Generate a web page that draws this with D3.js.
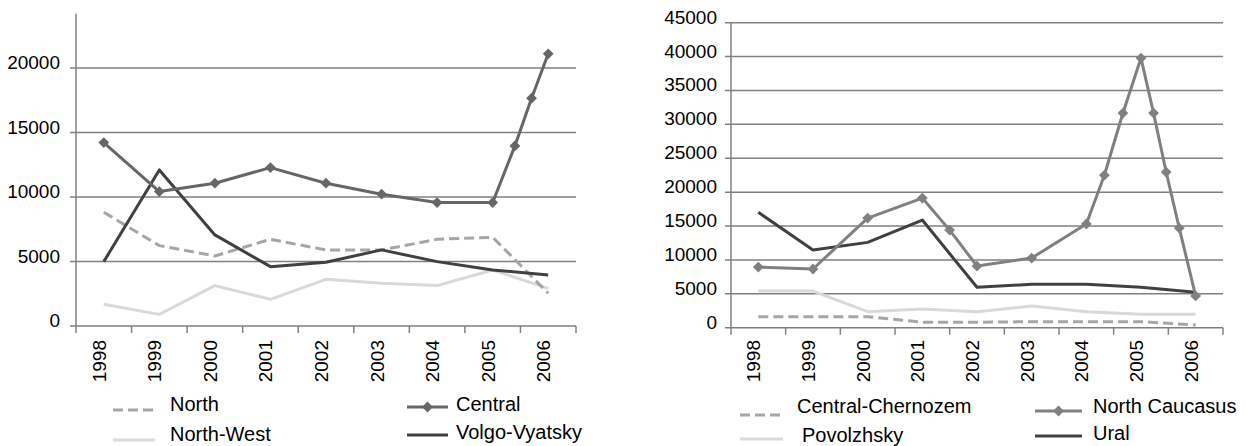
<!DOCTYPE html>
<html>
<head>
<meta charset="utf-8">
<script src="https://cdn.jsdelivr.net/npm/d3@7"></script>
<style>
html,body{margin:0;padding:0;background:#fff;}
svg{display:block;font-family:"Liberation Sans",Arial,sans-serif;}
</style>
</head>
<body>
<svg id="chart" width="1246" height="446"></svg>
<script>
// ---- data ----
const years = [1998, 1999, 2000, 2001, 2002, 2003, 2004, 2005, 2006];
const yearLabels = ["1998", "1999", "2000", "2001", "2002", "2003", "2004", "2005", "2006"];

// left chart
const leftTicks = [0, 5000, 10000, 15000, 20000];
const northVals = [8820, 6230, 5430, 6720, 5900, 5900, 6720, 6880, 2540];
const northWestVals = [1680, 900, 3130, 2070, 3620, 3310, 3130, 4340, 2920];
const centralX = [1998, 1999, 2000, 2001, 2002, 2003, 2004, 2005, 2005.4, 2005.7, 2006];
const centralVals = [14220, 10420, 11070, 12280, 11070, 10220, 9570, 9570, 13960, 17660, 21100];
const volgoVals = [4990, 12100, 7060, 4600, 4940, 5900, 4990, 4340, 3960];

// right chart
const rightTicks = [0, 5000, 10000, 15000, 20000, 25000, 30000, 35000, 40000, 45000];
const chernozemVals = [1620, 1620, 1620, 800, 800, 890, 890, 890, 400];
const povolzhskyVals = [5410, 5400, 2360, 2760, 2360, 3200, 2360, 1970, 1970];
const caucasusX = [1998, 1999, 2000, 2001, 2001.5, 2002, 2003, 2004, 2004.33, 2004.67, 2005, 2005.23, 2005.46, 2005.7, 2006];
const caucasusVals = [8950, 8660, 16180, 19130, 14400, 9100, 10280, 15300, 22500, 31670, 39780, 31670, 22970, 14700, 4680];
const uralVals = [17020, 11460, 12590, 15880, 5960, 6400, 6400, 5960, 5220];

const svg = d3.select("#chart");
const AXIS_FONT = 19;
const LEGEND_FONT = 20;
const GRID = "#808080";

function zip(xs, vs) { return xs.map((x, i) => ({x: x, v: vs[i]})); }

function drawChart(cfg) {
  const g = svg.append("g");
  const x = d3.scaleLinear().domain([years[0] - 0.5, years[years.length - 1] + 0.5]).range([cfg.x0, cfg.x1]);
  const y = d3.scaleLinear().domain([0, cfg.yMax]).range([cfg.yBottom, cfg.yMaxPx]);

  // gridlines + y tick labels
  g.selectAll("line.grid").data(cfg.ticks).join("line")
    .attr("x1", cfg.x0 - 6).attr("x2", cfg.x1)
    .attr("y1", d => y(d)).attr("y2", d => y(d))
    .attr("stroke", GRID).attr("stroke-width", 1.5);
  g.selectAll("text.ytick").data(cfg.ticks).join("text")
    .attr("x", cfg.labelRight).attr("y", d => y(d) + 1)
    .attr("text-anchor", "end").attr("font-size", AXIS_FONT).attr("fill", "#000")
    .text(d => d);

  // y axis line
  g.append("line").attr("x1", cfg.x0).attr("x2", cfg.x0)
    .attr("y1", y(0)).attr("y2", y(cfg.axisTopVal))
    .attr("stroke", GRID).attr("stroke-width", 1.5);

  // x axis ticks at category boundaries
  const bounds = d3.range(years.length + 1).map(i => years[0] - 0.5 + i);
  g.selectAll("line.xt").data(bounds).join("line")
    .attr("x1", d => x(d)).attr("x2", d => x(d))
    .attr("y1", y(0)).attr("y2", y(0) + 7)
    .attr("stroke", GRID).attr("stroke-width", 1.5);

  // x labels rotated
  g.selectAll("text.xl").data(years).join("text")
    .attr("transform", (d) => `translate(${x(d) + 2},340) rotate(-90)`)
    .attr("text-anchor", "end").attr("font-size", AXIS_FONT).attr("fill", "#000")
    .text((d, i) => yearLabels[i]);

  const line = d3.line().x(d => x(d.x)).y(d => y(d.v));
  cfg.series.forEach(s => {
    g.append("path").datum(s.data)
      .attr("d", line).attr("fill", "none")
      .attr("stroke", s.color).attr("stroke-width", 3)
      .attr("stroke-linejoin", "round")
      .attr("stroke-dasharray", s.dash || null);
    if (s.marker) {
      g.selectAll(null).data(s.data).join("path")
        .attr("d", d3.symbol().type(d3.symbolSquare).size(58))
        .attr("transform", d => `translate(${x(d.x)},${y(d.v)}) rotate(45)`)
        .attr("fill", s.color);
    }
  });

  // legend
  cfg.legend.forEach(l => {
    g.append("line").attr("x1", l.sx0).attr("x2", l.sx1)
      .attr("y1", l.sy).attr("y2", l.sy)
      .attr("stroke", l.s.color).attr("stroke-width", 3)
      .attr("stroke-dasharray", l.s.dash || null);
    if (l.s.marker) {
      g.append("path").attr("d", d3.symbol().type(d3.symbolSquare).size(58))
        .attr("transform", `translate(${(l.sx0 + l.sx1) / 2},${l.sy}) rotate(45)`)
        .attr("fill", l.s.color);
    }
    g.append("text").attr("x", l.tx).attr("y", l.ty)
      .attr("font-size", LEGEND_FONT).attr("fill", "#000").text(l.s.name);
  });
}

const sNorth = {name: "North", color: "#a6a6a6", dash: "10,5", data: zip(years, northVals)};
const sNorthWest = {name: "North-West", color: "#d9d9d9", data: zip(years, northWestVals)};
const sCentral = {name: "Central", color: "#666666", marker: true, data: zip(centralX, centralVals)};
const sVolgo = {name: "Volgo-Vyatsky", color: "#404040", data: zip(years, volgoVals)};

drawChart({
  x0: 76, x1: 576, yBottom: 326, yMax: 20000, yMaxPx: 68, axisTopVal: 24200,
  labelRight: 60, ticks: leftTicks,
  series: [sNorthWest, sNorth, sVolgo, sCentral],
  legend: [
    {s: sNorth, sx0: 113, sx1: 155, sy: 410, tx: 170, ty: 411},
    {s: sNorthWest, sx0: 113, sx1: 155, sy: 440, tx: 170, ty: 441},
    {s: sCentral, sx0: 407, sx1: 448, sy: 407, tx: 456, ty: 411},
    {s: sVolgo, sx0: 407, sx1: 448, sy: 435, tx: 456, ty: 439}
  ]
});

const sChern = {name: "Central-Chernozem", color: "#a6a6a6", dash: "10,5", data: zip(years, chernozemVals)};
const sPovol = {name: "Povolzhsky", color: "#d9d9d9", data: zip(years, povolzhskyVals)};
const sCauc = {name: "North Caucasus", color: "#808080", marker: true, data: zip(caucasusX, caucasusVals)};
const sUral = {name: "Ural", color: "#404040", data: zip(years, uralVals)};

drawChart({
  x0: 731, x1: 1223, yBottom: 327.7, yMax: 45000, yMaxPx: 22.7, axisTopVal: 45000,
  labelRight: 717, ticks: rightTicks,
  series: [sPovol, sChern, sUral, sCauc],
  legend: [
    {s: sChern, sx0: 740, sx1: 783, sy: 415, tx: 797, ty: 413},
    {s: sPovol, sx0: 740, sx1: 783, sy: 439, tx: 802, ty: 442},
    {s: sCauc, sx0: 1035, sx1: 1082, sy: 411, tx: 1093, ty: 413},
    {s: sUral, sx0: 1035, sx1: 1082, sy: 436, tx: 1093, ty: 440}
  ]
});
</script>
</body>
</html>
